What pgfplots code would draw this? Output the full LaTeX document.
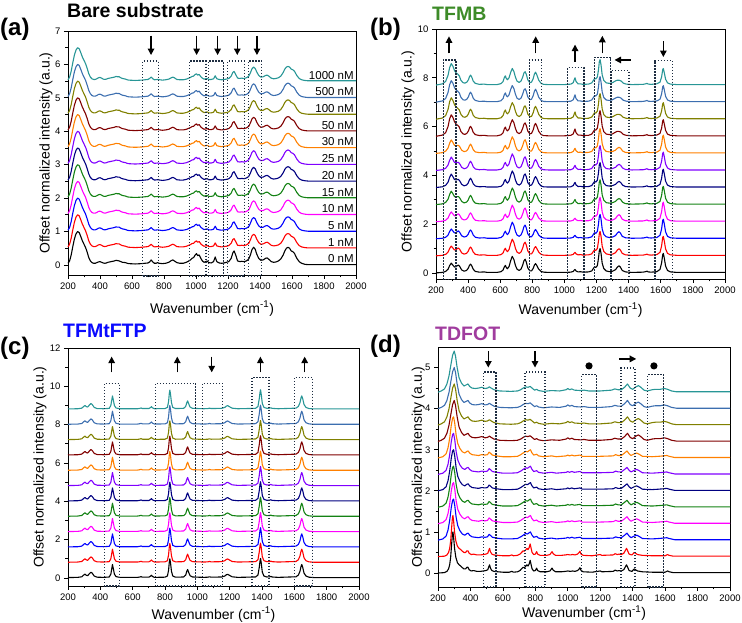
\documentclass[border=0pt]{standalone}
\usepackage{pgfplots}
\pgfplotsset{compat=1.18}
\usepackage{pgfplotstable}
\usepackage{fontspec}
\setmainfont{Liberation Sans}
\usetikzlibrary{arrows.meta}

\definecolor{c0}{RGB}{0,0,0}
\definecolor{c1}{RGB}{255,0,0}
\definecolor{c2}{RGB}{0,0,255}
\definecolor{c3}{RGB}{255,0,255}
\definecolor{c4}{RGB}{20,130,20}
\definecolor{c5}{RGB}{0,0,128}
\definecolor{c6}{RGB}{128,0,255}
\definecolor{c7}{RGB}{255,128,0}
\definecolor{c8}{RGB}{128,0,0}
\definecolor{c9}{RGB}{128,128,0}
\definecolor{c10}{RGB}{60,110,175}
\definecolor{c11}{RGB}{40,150,150}
\definecolor{boxc}{RGB}{30,45,65}
\definecolor{tfmb}{RGB}{61,139,40}
\definecolor{tfmtftp}{RGB}{10,10,255}
\definecolor{tdfot}{RGB}{160,60,158}

% ---------- (a) bare substrate ----------
\pgfplotstableread{
x y
200 0.05
210 0.12
220 0.3
230 0.55
240 0.78
250 0.93
260 1.0
270 0.97
280 0.85
290 0.72
300 0.62
310 0.52
320 0.38
330 0.22
340 0.12
350 0.07
360 0.05
370 0.05
380 0.07
390 0.09
400 0.1
410 0.08
420 0.06
430 0.05
440 0.06
450 0.08
470 0.1
490 0.12
500 0.14
510 0.13
520 0.12
530 0.1
540 0.08
560 0.07
570 0.05
580 0.04
620 0.03
660 0.04
680 0.05
700 0.06
710 0.09
720 0.15
730 0.09
740 0.05
750 0.05
760 0.07
770 0.05
790 0.04
810 0.05
830 0.08
845 0.13
855 0.15
865 0.12
880 0.07
900 0.05
920 0.05
940 0.08
955 0.12
965 0.15
975 0.2
985 0.22
995 0.3
1003 0.34
1010 0.28
1020 0.3
1030 0.2
1040 0.12
1050 0.08
1060 0.1
1070 0.12
1080 0.07
1095 0.06
1110 0.1
1120 0.24
1130 0.1
1145 0.06
1160 0.05
1175 0.06
1190 0.08
1205 0.1
1220 0.2
1230 0.36
1238 0.42
1248 0.3
1260 0.12
1275 0.1
1285 0.11
1300 0.1
1315 0.12
1330 0.18
1340 0.3
1350 0.46
1360 0.53
1370 0.47
1380 0.32
1392 0.2
1405 0.14
1420 0.15
1435 0.2
1445 0.21
1455 0.17
1470 0.1
1485 0.08
1500 0.09
1515 0.12
1530 0.18
1545 0.3
1555 0.42
1565 0.5
1575 0.53
1585 0.5
1595 0.42
1605 0.4
1615 0.35
1630 0.2
1645 0.1
1660 0.05
1680 0.02
1700 0.01
2000 0.01
}\tabAzero

\pgfplotstableread{
x y
200 0.04
210 0.12
220 0.3
230 0.55
240 0.78
250 0.93
260 1.0
270 0.97
280 0.85
290 0.72
300 0.62
310 0.52
320 0.38
330 0.22
340 0.12
350 0.07
360 0.05
370 0.05
380 0.07
390 0.1
400 0.11
410 0.09
420 0.06
430 0.05
440 0.06
450 0.08
470 0.1
490 0.12
500 0.14
510 0.13
520 0.13
530 0.1
540 0.08
560 0.06
570 0.04
580 0.03
620 0.02
660 0.03
680 0.04
700 0.05
710 0.08
720 0.12
730 0.07
740 0.04
760 0.05
790 0.03
810 0.04
830 0.06
845 0.1
855 0.12
865 0.1
880 0.05
900 0.04
920 0.04
940 0.06
955 0.09
965 0.11
975 0.14
985 0.15
995 0.2
1003 0.22
1010 0.18
1020 0.2
1030 0.13
1040 0.09
1050 0.06
1060 0.07
1070 0.08
1080 0.05
1095 0.05
1110 0.07
1120 0.16
1130 0.07
1145 0.05
1160 0.04
1175 0.05
1190 0.06
1205 0.08
1220 0.15
1230 0.26
1238 0.29
1248 0.2
1260 0.09
1275 0.08
1285 0.09
1300 0.08
1315 0.1
1330 0.15
1340 0.25
1350 0.37
1360 0.42
1370 0.38
1380 0.27
1392 0.17
1405 0.12
1420 0.13
1435 0.17
1445 0.18
1455 0.15
1470 0.09
1485 0.07
1500 0.08
1515 0.1
1530 0.15
1545 0.26
1555 0.36
1565 0.42
1575 0.44
1585 0.42
1595 0.36
1605 0.34
1615 0.3
1630 0.17
1645 0.08
1660 0.04
1680 0.02
1700 0.01
2000 0.01
}\tabAone

% ---------- (b) TFMB ----------
\pgfplotstableread{
x y
200 0.0
240 0.02
260 0.06
275 0.15
285 0.3
295 0.4
305 0.32
315 0.24
325 0.25
333 0.3
340 0.32
348 0.26
360 0.12
375 0.07
390 0.1
400 0.18
408 0.3
415 0.36
422 0.3
432 0.15
445 0.06
470 0.03
500 0.04
520 0.02
580 0.02
605 0.05
618 0.12
625 0.24
632 0.31
638 0.22
645 0.17
655 0.26
665 0.5
675 0.68
685 0.55
695 0.3
705 0.15
718 0.1
730 0.16
740 0.32
748 0.5
755 0.56
762 0.45
772 0.2
785 0.08
795 0.08
805 0.18
813 0.32
820 0.38
828 0.3
840 0.15
855 0.06
870 0.03
900 0.02
1000 0.02
1040 0.03
1055 0.06
1062 0.12
1066 0.14
1072 0.08
1085 0.04
1100 0.05
1115 0.03
1150 0.04
1170 0.08
1180 0.18
1188 0.25
1195 0.22
1205 0.3
1212 0.6
1217 0.9
1222 1.0
1228 0.8
1235 0.4
1245 0.18
1260 0.08
1280 0.05
1300 0.07
1318 0.13
1330 0.24
1340 0.29
1348 0.24
1360 0.1
1380 0.04
1420 0.02
1490 0.03
1505 0.05
1514 0.07
1522 0.04
1540 0.03
1575 0.05
1595 0.14
1605 0.4
1612 0.75
1616 0.8
1622 0.6
1630 0.28
1642 0.1
1660 0.04
1700 0.02
2000 0.02
}\tabBzero

\pgfplotstableread{
x y
200 0.0
240 0.03
260 0.09
275 0.22
285 0.42
295 0.55
305 0.45
315 0.33
325 0.31
333 0.33
340 0.33
348 0.27
360 0.13
375 0.07
390 0.1
400 0.18
408 0.31
415 0.38
422 0.31
432 0.15
445 0.06
470 0.03
500 0.04
520 0.02
580 0.02
605 0.05
618 0.13
625 0.26
632 0.33
638 0.23
645 0.18
655 0.27
665 0.5
675 0.68
685 0.55
695 0.3
705 0.15
718 0.1
730 0.16
740 0.32
748 0.5
755 0.56
762 0.45
772 0.2
785 0.09
795 0.1
805 0.22
813 0.38
820 0.45
828 0.36
840 0.17
855 0.06
870 0.03
900 0.02
1000 0.02
1040 0.03
1055 0.08
1062 0.17
1066 0.21
1072 0.11
1085 0.04
1100 0.05
1115 0.03
1150 0.04
1170 0.08
1180 0.18
1188 0.25
1195 0.22
1205 0.3
1212 0.6
1217 0.92
1222 1.02
1228 0.8
1235 0.4
1245 0.18
1260 0.08
1280 0.06
1300 0.08
1318 0.13
1330 0.21
1340 0.25
1350 0.21
1362 0.1
1380 0.04
1420 0.02
1490 0.03
1505 0.05
1514 0.07
1522 0.04
1540 0.03
1575 0.05
1595 0.13
1605 0.37
1612 0.7
1616 0.75
1622 0.56
1630 0.26
1642 0.1
1660 0.04
1700 0.02
2000 0.02
}\tabBone

\pgfplotstableread{
x y
200 0.0
240 0.05
260 0.15
275 0.4
285 0.72
295 0.88
305 0.78
315 0.6
325 0.5
335 0.45
345 0.38
355 0.2
368 0.1
380 0.08
392 0.12
402 0.22
409 0.35
415 0.41
422 0.34
432 0.16
445 0.07
470 0.03
500 0.04
520 0.02
580 0.02
605 0.06
618 0.15
625 0.3
632 0.38
638 0.27
645 0.22
655 0.3
665 0.52
675 0.68
685 0.56
695 0.32
705 0.16
718 0.11
730 0.17
740 0.33
748 0.5
755 0.55
762 0.45
772 0.21
785 0.1
795 0.12
805 0.26
813 0.45
820 0.53
828 0.42
840 0.2
855 0.07
870 0.03
900 0.02
1000 0.02
1040 0.04
1055 0.1
1062 0.24
1066 0.3
1072 0.15
1085 0.05
1100 0.05
1115 0.03
1150 0.04
1170 0.09
1180 0.19
1188 0.27
1195 0.25
1205 0.33
1212 0.62
1217 0.95
1222 1.05
1228 0.82
1235 0.42
1245 0.19
1260 0.09
1280 0.07
1300 0.1
1315 0.16
1328 0.2
1340 0.2
1352 0.17
1366 0.08
1385 0.04
1420 0.02
1490 0.03
1505 0.05
1514 0.07
1522 0.04
1540 0.03
1575 0.05
1595 0.12
1605 0.33
1612 0.63
1616 0.68
1622 0.5
1630 0.24
1642 0.09
1660 0.04
1700 0.02
2000 0.02
}\tabBtwo

% ---------- (c) TFMtFTP ----------
\pgfplotstableread{
x y
200 0.02
260 0.03
285 0.06
297 0.15
305 0.2
313 0.14
322 0.12
332 0.22
342 0.3
350 0.25
362 0.1
380 0.04
420 0.03
455 0.05
465 0.2
470 0.45
475 0.7
480 0.5
487 0.2
497 0.07
520 0.03
630 0.03
645 0.05
652 0.07
660 0.04
700 0.04
710 0.09
716 0.14
722 0.08
735 0.03
800 0.04
815 0.1
822 0.4
827 0.85
830 1.0
834 0.8
840 0.35
848 0.1
865 0.04
915 0.05
928 0.15
935 0.35
940 0.44
946 0.3
955 0.12
970 0.05
1040 0.03
1065 0.04
1075 0.06
1085 0.04
1150 0.05
1170 0.1
1180 0.17
1188 0.19
1198 0.14
1215 0.06
1250 0.03
1360 0.05
1375 0.15
1383 0.55
1388 0.9
1391 1.02
1395 0.8
1402 0.3
1412 0.1
1430 0.05
1448 0.06
1455 0.08
1462 0.05
1500 0.03
1610 0.06
1625 0.15
1635 0.35
1642 0.62
1646 0.7
1652 0.55
1660 0.25
1672 0.1
1690 0.04
1720 0.02
2000 0.02
}\tabC

% ---------- (d) TDFOT ----------
\pgfplotstableread{
x y
200 0.0
240 0.01
255 0.04
265 0.1
272 0.2
278 0.38
284 0.7
289 0.95
292 1.0
296 0.88
302 0.6
310 0.38
320 0.25
330 0.2
340 0.17
350 0.13
360 0.1
370 0.1
378 0.14
385 0.14
392 0.08
405 0.05
420 0.06
440 0.04
460 0.04
480 0.05
495 0.06
507 0.08
513 0.15
518 0.2
523 0.12
532 0.06
545 0.04
570 0.03
600 0.02
640 0.02
655 0.04
665 0.02
690 0.03
705 0.06
715 0.1
725 0.14
732 0.13
740 0.16
748 0.2
755 0.17
762 0.22
768 0.31
773 0.22
780 0.1
790 0.05
800 0.06
808 0.12
814 0.06
830 0.03
870 0.03
890 0.05
903 0.12
910 0.07
925 0.03
960 0.03
985 0.04
1000 0.05
1015 0.04
1030 0.05
1045 0.04
1060 0.06
1070 0.1
1075 0.13
1082 0.06
1095 0.03
1150 0.02
1200 0.05
1210 0.03
1280 0.04
1292 0.07
1305 0.05
1315 0.06
1330 0.05
1345 0.08
1355 0.15
1362 0.2
1368 0.15
1378 0.06
1395 0.04
1410 0.1
1418 0.08
1430 0.05
1460 0.03
1520 0.02
1600 0.02
1615 0.05
1625 0.03
1650 0.01
2000 0.01
}\tabDzero

\pgfplotstableread{
x y
200 0.0
230 0.03
250 0.1
262 0.25
272 0.48
282 0.8
290 0.97
296 1.0
303 0.85
312 0.55
322 0.35
335 0.23
350 0.15
365 0.12
378 0.16
386 0.17
395 0.12
410 0.08
430 0.07
450 0.06
470 0.08
490 0.07
505 0.08
515 0.14
522 0.12
535 0.07
560 0.05
600 0.03
650 0.03
690 0.04
710 0.08
725 0.12
740 0.16
752 0.15
762 0.18
770 0.2
778 0.13
790 0.07
808 0.09
820 0.05
850 0.03
900 0.05
930 0.03
990 0.05
1000 0.07
1010 0.05
1025 0.07
1040 0.05
1075 0.07
1090 0.04
1200 0.04
1280 0.05
1295 0.08
1310 0.06
1330 0.06
1350 0.12
1365 0.17
1378 0.1
1390 0.06
1410 0.1
1425 0.12
1440 0.09
1460 0.04
1520 0.03
1560 0.04
1590 0.05
1610 0.06
1625 0.04
1660 0.01
2000 0.01
}\tabDone

\pgfplotstableread{
x y
200 0.0
220 0.03
240 0.08
255 0.2
268 0.4
280 0.68
290 0.9
300 1.0
308 0.88
318 0.6
330 0.35
345 0.22
360 0.15
375 0.18
385 0.2
395 0.14
410 0.1
430 0.09
450 0.1
470 0.12
490 0.09
505 0.1
517 0.13
528 0.1
545 0.06
580 0.03
650 0.02
690 0.03
710 0.06
725 0.1
740 0.13
755 0.12
768 0.14
780 0.1
795 0.05
808 0.07
820 0.04
850 0.02
900 0.04
950 0.03
990 0.06
1000 0.09
1012 0.06
1025 0.08
1040 0.05
1080 0.04
1100 0.05
1130 0.03
1200 0.03
1270 0.05
1290 0.08
1310 0.06
1330 0.06
1350 0.12
1368 0.2
1385 0.1
1400 0.07
1420 0.13
1435 0.16
1450 0.12
1470 0.05
1490 0.03
1520 0.06
1540 0.07
1570 0.07
1595 0.09
1615 0.07
1640 0.03
1670 0.01
2000 0.01
}\tabDtwo

\tikzset{
  dbox/.style={boxc, line width=1.2pt, dash pattern=on 1.4pt off 1.6pt},
  marker/.style={black, line width=1.4pt, -{Triangle[length=6.5pt,width=6.5pt]}},
  conc/.style={anchor=base east, inner sep=0pt, font=\fontsize{11.5}{12}\selectfont},
}
\pgfplotsset{
  trace/.style={line width=1.1pt, line join=round, mark=none},
  panel/.style={
    scale only axis, anchor=south west, clip=false,
    xmin=200, xmax=2000, xtick={200,400,...,2000}, minor x tick num=1,
    minor y tick num=1,
    tick align=outside, xtick pos=bottom, ytick pos=left,
    axis line style={line width=0.7pt},
    every tick/.style={line width=0.7pt, black},
    major tick length=4pt, minor tick length=2.5pt,
    ticklabel style={font=\fontsize{9.5}{11}\selectfont},
    /pgf/number format/assume math mode=true,
    /pgf/number format/1000 sep={},
    xlabel={Wavenumber (cm\textsuperscript{-1})},
    ylabel={Offset normalized intensity (a.u.)},
    label style={font=\fontsize{14}{16}\selectfont},
    every axis plot/.append style={trace},
  },
}

\begin{document}
\begin{tikzpicture}
\path[use as bounding box] (0pt,0pt) rectangle (742pt,623pt);

% ---------------- (a) ----------------
\begin{axis}[panel, at={(68pt,348pt)}, width=288pt, height=244pt,
  ymin=-0.3, ymax=7, ytick={0,1,...,7},
  xlabel style={at={(axis description cs:0.5,-0.156)}, anchor=base},
  ylabel style={at={(axis description cs:-0.076,0.5)}, anchor=center}]
\addplot[c0]  table[y expr=\thisrow{y}+0.0] {\tabAzero};
\addplot[c1]  table[y expr=\thisrow{y}+0.5] {\tabAone};
\addplot[c2]  table[y expr=\thisrow{y}+1.0] {\tabAone};
\addplot[c3]  table[y expr=\thisrow{y}+1.5] {\tabAone};
\addplot[c4]  table[y expr=\thisrow{y}+2.0] {\tabAone};
\addplot[c5]  table[y expr=\thisrow{y}+2.5] {\tabAone};
\addplot[c6]  table[y expr=\thisrow{y}+3.0] {\tabAone};
\addplot[c7]  table[y expr=\thisrow{y}+3.5] {\tabAone};
\addplot[c8]  table[y expr=\thisrow{y}+4.0] {\tabAone};
\addplot[c9]  table[y expr=\thisrow{y}+4.5] {\tabAone};
\addplot[c10] table[y expr=\thisrow{y}+5.0] {\tabAone};
\addplot[c11] table[y expr=\thisrow{y}+5.5] {\tabAone};
\node[conc] at (axis cs:1987,0.06) {0 nM};
\node[conc] at (axis cs:1987,0.56) {1 nM};
\node[conc] at (axis cs:1987,1.06) {5 nM};
\node[conc] at (axis cs:1987,1.56) {10 nM};
\node[conc] at (axis cs:1987,2.06) {15 nM};
\node[conc] at (axis cs:1987,2.56) {20 nM};
\node[conc] at (axis cs:1987,3.06) {25 nM};
\node[conc] at (axis cs:1987,3.56) {30 nM};
\node[conc] at (axis cs:1987,4.06) {50 nM};
\node[conc] at (axis cs:1987,4.56) {100 nM};
\node[conc] at (axis cs:1987,5.06) {500 nM};
\node[conc] at (axis cs:1987,5.56) {1000 nM};
\draw[dbox] (axis cs:667,-0.33) rectangle (axis cs:764,6.1);
\draw[dbox] (axis cs:958,-0.33) rectangle (axis cs:1062,6.1);
\draw[dbox] (axis cs:1077,-0.33) rectangle (axis cs:1171,6.1);
\draw[dbox] (axis cs:1198,-0.33) rectangle (axis cs:1302,6.1);
\draw[dbox] (axis cs:1327,-0.33) rectangle (axis cs:1411,6.1);
\draw[marker] (axis cs:719,6.86) -- (axis cs:719,6.28);
\draw[marker] (axis cs:1004,6.86) -- (axis cs:1004,6.28);
\draw[marker] (axis cs:1135,6.86) -- (axis cs:1135,6.28);
\draw[marker] (axis cs:1258,6.86) -- (axis cs:1258,6.28);
\draw[marker] (axis cs:1381,6.86) -- (axis cs:1381,6.28);
\end{axis}

% ---------------- (b) ----------------
\begin{axis}[panel, at={(436pt,344pt)}, width=289pt, height=250pt,
  ymin=-0.25, ymax=10, ytick={0,2,...,10},
  xlabel style={at={(axis description cs:0.5,-0.144)}, anchor=base},
  ylabel style={at={(axis description cs:-0.097,0.51)}, anchor=center}]
\addplot[c0]  table[y expr=\thisrow{y}+0.0] {\tabBzero};
\addplot[c1]  table[y expr=\thisrow{y}+0.7] {\tabBzero};
\addplot[c2]  table[y expr=\thisrow{y}+1.4] {\tabBzero};
\addplot[c3]  table[y expr=\thisrow{y}+2.1] {\tabBzero};
\addplot[c4]  table[y expr=\thisrow{y}+2.8] {\tabBone};
\addplot[c5]  table[y expr=\thisrow{y}+3.5] {\tabBone};
\addplot[c6]  table[y expr=\thisrow{y}+4.2] {\tabBone};
\addplot[c7]  table[y expr=\thisrow{y}+4.9] {\tabBone};
\addplot[c8]  table[y expr=\thisrow{y}+5.6] {\tabBtwo};
\addplot[c9]  table[y expr=\thisrow{y}+6.3] {\tabBtwo};
\addplot[c10] table[y expr=\thisrow{y}+7.0] {\tabBtwo};
\addplot[c11] table[y expr=\thisrow{y}+7.7] {\tabBtwo};
\draw[dbox] (axis cs:245,-0.28) rectangle (axis cs:325,8.73);
\draw[dbox] (axis cs:781,-0.28) rectangle (axis cs:858,8.73);
\draw[dbox] (axis cs:1020,-0.28) rectangle (axis cs:1122,8.41);
\draw[dbox] (axis cs:1186,-0.28) rectangle (axis cs:1288,8.82);
\draw[dbox] (axis cs:1290,-0.28) rectangle (axis cs:1402,8.29);
\draw[dbox] (axis cs:1564,-0.28) rectangle (axis cs:1674,8.7);
\draw[marker] (axis cs:281,9.0) -- (axis cs:281,9.7);
\draw[marker] (axis cs:821,9.0) -- (axis cs:821,9.7);
\draw[marker] (axis cs:1066,8.66) -- (axis cs:1066,9.36);
\draw[marker] (axis cs:1236,9.0) -- (axis cs:1236,9.72);
\draw[marker] (axis cs:1414,8.73) -- (axis cs:1312,8.73);
\draw[marker] (axis cs:1616,9.5) -- (axis cs:1616,8.85);
\end{axis}

% ---------------- (c) ----------------
\begin{axis}[panel, at={(68pt,37pt)}, width=291pt, height=238pt,
  ymin=-0.42, ymax=12, ytick={0,2,...,12},
  xlabel style={at={(axis description cs:0.5,-0.139)}, anchor=base},
  ylabel style={at={(axis description cs:-0.096,0.5)}, anchor=center}]
\addplot[c0]  table[y expr=\thisrow{y}+0.0] {\tabC};
\addplot[c1]  table[y expr=\thisrow{y}+0.8] {\tabC};
\addplot[c2]  table[y expr=\thisrow{y}+1.6] {\tabC};
\addplot[c3]  table[y expr=\thisrow{y}+2.4] {\tabC};
\addplot[c4]  table[y expr=\thisrow{y}+3.2] {\tabC};
\addplot[c5]  table[y expr=\thisrow{y}+4.0] {\tabC};
\addplot[c6]  table[y expr=\thisrow{y}+4.8] {\tabC};
\addplot[c7]  table[y expr=\thisrow{y}+5.6] {\tabC};
\addplot[c8]  table[y expr=\thisrow{y}+6.4] {\tabC};
\addplot[c9]  table[y expr=\thisrow{y}+7.2] {\tabC};
\addplot[c10] table[y expr=\thisrow{y}+8.0] {\tabC};
\addplot[c11] table[y expr=\thisrow{y}+8.8] {\tabC};
\draw[dbox] (axis cs:425,-0.42) rectangle (axis cs:517,10.16);
\draw[dbox] (axis cs:742,-0.42) rectangle (axis cs:990,10.16);
\draw[dbox] (axis cs:1033,-0.42) rectangle (axis cs:1154,10.16);
\draw[dbox] (axis cs:1338,-0.42) rectangle (axis cs:1443,10.47);
\draw[dbox] (axis cs:1600,-0.42) rectangle (axis cs:1711,10.47);
\draw[marker] (axis cs:470,10.73) -- (axis cs:470,11.55);
\draw[marker] (axis cs:876,10.73) -- (axis cs:876,11.55);
\draw[marker] (axis cs:1390,10.73) -- (axis cs:1390,11.55);
\draw[marker] (axis cs:1664,10.73) -- (axis cs:1664,11.55);
\draw[marker] (axis cs:1089,11.55) -- (axis cs:1089,10.73);
\end{axis}

% ---------------- (d) ----------------
\begin{axis}[panel, at={(438pt,36pt)}, width=292pt, height=240pt,
  ymin=-0.34, ymax=5.5, ytick={0,1,...,5},
  xlabel style={at={(axis description cs:0.5,-0.129)}, anchor=base},
  ylabel style={at={(axis description cs:-0.068,0.5)}, anchor=center}]
\addplot[c0]  table[y expr=\thisrow{y}+0.0] {\tabDzero};
\addplot[c1]  table[y expr=\thisrow{y}+0.4] {\tabDzero};
\addplot[c2]  table[y expr=\thisrow{y}+0.8] {\tabDone};
\addplot[c3]  table[y expr=\thisrow{y}+1.2] {\tabDone};
\addplot[c4]  table[y expr=\thisrow{y}+1.6] {\tabDone};
\addplot[c5]  table[y expr=\thisrow{y}+2.0] {\tabDone};
\addplot[c6]  table[y expr=\thisrow{y}+2.4] {\tabDone};
\addplot[c7]  table[y expr=\thisrow{y}+2.8] {\tabDone};
\addplot[c8]  table[y expr=\thisrow{y}+3.2] {\tabDtwo};
\addplot[c9]  table[y expr=\thisrow{y}+3.6] {\tabDtwo};
\addplot[c10] table[y expr=\thisrow{y}+4.0] {\tabDtwo};
\addplot[c11] table[y expr=\thisrow{y}+4.4] {\tabDtwo};
\draw[dbox] (axis cs:479,-0.34) rectangle (axis cs:557,4.89);
\draw[dbox] (axis cs:736,-0.34) rectangle (axis cs:860,4.89);
\draw[dbox] (axis cs:1086,-0.34) rectangle (axis cs:1178,4.83);
\draw[dbox] (axis cs:1328,-0.34) rectangle (axis cs:1414,4.99);
\draw[dbox] (axis cs:1493,-0.34) rectangle (axis cs:1589,4.83);
\draw[marker] (axis cs:510,5.4) -- (axis cs:510,5.0);
\draw[marker] (axis cs:798,5.4) -- (axis cs:798,5.0);
\draw[marker] (axis cs:1318,5.21) -- (axis cs:1422,5.21);
\fill[black] (axis cs:1131,5.04) circle[radius=3.6pt];
\fill[black] (axis cs:1531,5.04) circle[radius=3.6pt];
\end{axis}

% ---------------- panel titles ----------------
\node[anchor=base west, inner sep=0pt, font=\fontsize{24}{26}\selectfont\bfseries] at (0pt,587pt) {(a)};
\node[anchor=base west, inner sep=0pt, font=\fontsize{19.5}{22}\selectfont\bfseries] at (67pt,605pt) {Bare substrate};
\node[anchor=base west, inner sep=0pt, font=\fontsize{24}{26}\selectfont\bfseries] at (370pt,587pt) {(b)};
\node[anchor=base west, inner sep=0pt, font=\fontsize{19.5}{22}\selectfont\bfseries, text=tfmb] at (432pt,602pt) {TFMB};
\node[anchor=base west, inner sep=0pt, font=\fontsize{24}{26}\selectfont\bfseries] at (0pt,268pt) {(c)};
\node[anchor=base west, inner sep=0pt, font=\fontsize{19.5}{22}\selectfont\bfseries, text=tfmtftp] at (63pt,285pt) {TFMtFTP};
\node[anchor=base west, inner sep=0pt, font=\fontsize{24}{26}\selectfont\bfseries] at (370pt,270pt) {(d)};
\node[anchor=base west, inner sep=0pt, font=\fontsize{19.5}{22}\selectfont\bfseries, text=tdfot] at (435pt,282pt) {TDFOT};
\end{tikzpicture}
\end{document}
